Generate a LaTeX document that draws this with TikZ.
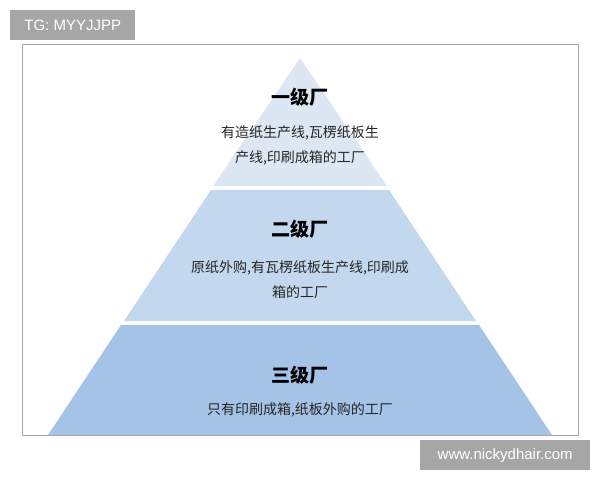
\documentclass[tikz,border=0pt]{standalone}
\usepackage{fontspec}
\setmainfont{Liberation Sans}
\newfontfamily\cjk{Noto Sans CJK SC}
\usetikzlibrary{positioning}

\definecolor{tierA}{HTML}{DCE7F3}
\definecolor{tierB}{HTML}{C3D8EE}
\definecolor{tierC}{HTML}{A4C3E6}
\definecolor{tagbg}{HTML}{A6A6A6}

\begin{document}
\begin{tikzpicture}[
	  x=1pt, y=-1pt,
	  title/.style={font=\cjk\fontsize{19}{21}\selectfont\bfseries, text=black},
	  desc/.style={font=\cjk\fontsize{14}{25}\selectfont, text=black!85, align=center},
	  tag/.style={fill=tagbg, text=white, font=\fontsize{15}{17}\selectfont, inner sep=0pt, anchor=north west}
	]
	\useasboundingbox (0,0) rectangle (600,480);
	
	% Frame
	\draw[gray!70, line width=1pt] (22,44) rectangle (578,435);
	
	% Tiers
	\fill[tierA] (300,58) -- (387,186) -- (213,186) -- cycle;
	\fill[tierB] (211,190) -- (389,190) -- (476,321) -- (124,321) -- cycle;
	\fill[tierC] (121,325) -- (479,325) -- (552,435) -- (48,435) -- cycle;
	
	% Labels
	\node[title] (t1) at (300,97) {一级厂};
	\node[desc] (d1) at (300,145) {有造纸生产线,瓦楞纸板生\\产线,印刷成箱的工厂};
	\node[title] (t2) at (300,229) {二级厂};
	\node[desc] (d2) at (300,280) {原纸外购,有瓦楞纸板生产线,印刷成\\箱的工厂};
	\node[title] (t3) at (300,375) {三级厂};
	\node[desc] (d3) at (300,410) {只有印刷成箱,纸板外购的工厂};
	
	% Tags
	\node[tag, minimum width=125pt, minimum height=30pt] (tg) at (10,10) {TG: MYYJJPP};
	\node[tag, minimum width=170pt, minimum height=30pt] (www) at (420,440) {www.nickydhair.com};
	
	\end{tikzpicture}
\end{document}
